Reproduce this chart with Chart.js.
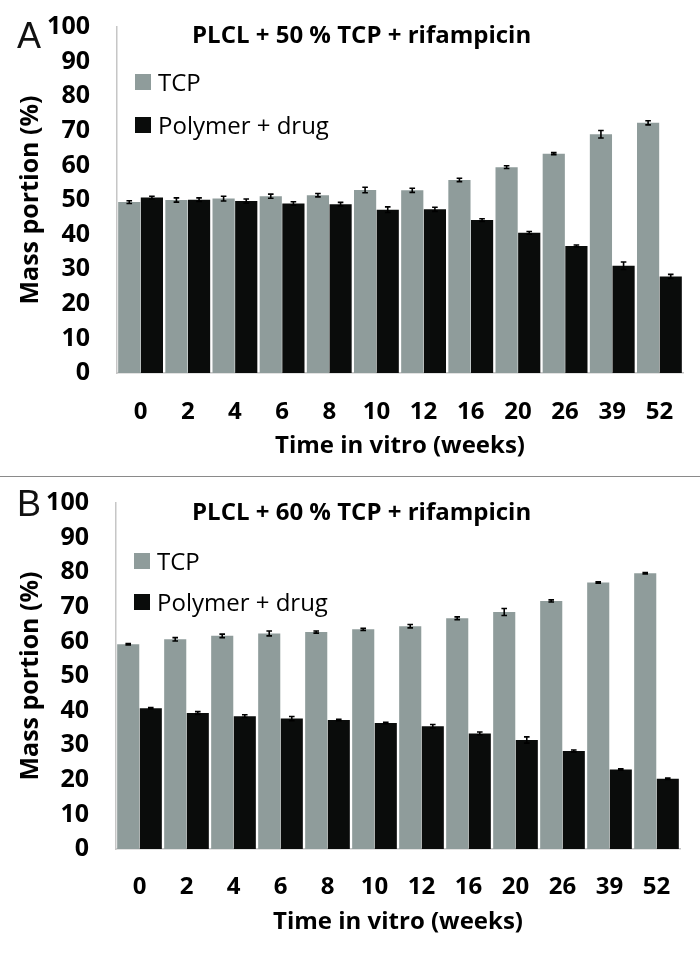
<!DOCTYPE html>
<html><head><meta charset="utf-8">
<script src="https://cdn.jsdelivr.net/npm/chart.js@4"></script>
<style>
html,body{margin:0;padding:0;background:#fff;}
#wrap{width:700px;height:954px;position:relative;overflow:hidden;}
.panel{position:absolute;left:0;width:700px;}
#pa{top:0;height:476px;}
#sep{position:absolute;left:0;top:476px;width:700px;height:1px;background:#8a8a8a;}
#pb{top:477px;height:477px;}
</style></head><body>
<div id="wrap">
<div class="panel" id="pa"><canvas id="ca" width="700" height="476"></canvas></div>
<div id="sep"></div>
<div class="panel" id="pb"><canvas id="cb" width="700" height="477"></canvas></div>
</div>
<script>
// ---- data ----
const weeks = ['0','2','4','6','8','10','12','16','20','26','39','52'];
const yTickValues = [0,10,20,30,40,50,60,70,80,90,100];
const seriesNames = ['TCP','Polymer + drug'];
const titleA = 'PLCL + 50 % TCP + rifampicin';
const titleB = 'PLCL + 60 % TCP + rifampicin';
const xTitle = 'Time in vitro (weeks)';
const yTitle = 'Mass portion (%)';

const tcpA    = [49.4, 50.0, 50.4, 51.1, 51.4, 52.9, 52.8, 55.8, 59.5, 63.4, 69.0, 72.3];
const polyA   = [50.7, 50.1, 49.7, 49.0, 48.8, 47.2, 47.3, 44.2, 40.5, 36.7, 31.0, 27.9];
const tcpErrA  = [0.4, 0.6, 0.7, 0.6, 0.5, 0.8, 0.6, 0.5, 0.4, 0.3, 1.1, 0.6];
const polyErrA = [0.4, 0.5, 0.6, 0.5, 0.5, 0.8, 0.6, 0.4, 0.4, 0.3, 1.1, 0.6];

const tcpB    = [59.2, 60.6, 61.6, 62.3, 62.7, 63.5, 64.4, 66.7, 68.5, 71.7, 77.0, 79.7];
const polyB   = [40.7, 39.3, 38.4, 37.7, 37.3, 36.4, 35.5, 33.4, 31.5, 28.3, 23.0, 20.3];
const tcpErrB  = [0.2, 0.5, 0.5, 0.7, 0.3, 0.3, 0.5, 0.4, 1.0, 0.3, 0.2, 0.2];
const polyErrB = [0.2, 0.4, 0.4, 0.6, 0.2, 0.2, 0.5, 0.4, 0.9, 0.3, 0.2, 0.2];

// ---- styles ----
const GREY = '#8f9c9b';
const BLACK = '#0a0c0b';
const AXIS = '#c6c6c6';
const FONT = '"Open Sans", Lato, sans-serif';

const errorBars = {
  id: 'errorBars',
  afterDatasetsDraw(chart) {
    const ctx = chart.ctx, y = chart.scales.y;
    chart.data.datasets.forEach((ds, di) => {
      const meta = chart.getDatasetMeta(di);
      meta.data.forEach((bar, i) => {
        const v = ds.data[i], e = ds.errors[i];
        const yt = y.getPixelForValue(v + e), yb = y.getPixelForValue(v - e);
        ctx.save();
        ctx.strokeStyle = '#000';
        ctx.lineWidth = 1.6;
        ctx.beginPath();
        ctx.moveTo(bar.x, yt); ctx.lineTo(bar.x, yb);
        ctx.moveTo(bar.x - 2.8, yt); ctx.lineTo(bar.x + 2.8, yt);
        ctx.moveTo(bar.x - 2.8, yb); ctx.lineTo(bar.x + 2.8, yb);
        ctx.stroke();
        ctx.restore();
      });
    });
  }
};

const deco = {
  id: 'deco',
  afterDraw(chart, args, o) {
    const ctx = chart.ctx, ca = chart.chartArea;
    ctx.save();
    // panel letter
    ctx.fillStyle = '#111';
    ctx.font = '36px "Liberation Sans", Arial, sans-serif';
    ctx.textBaseline = 'alphabetic';
    ctx.textAlign = 'left';
    ctx.fillText(o.letter, 17, o.letterY);
    // title
    ctx.font = 'bold 24px ' + FONT;
    ctx.fillStyle = '#000';
    ctx.fillText(o.title, 192, ca.top + o.titleDy);
    // legend
    const lx = ca.left + 18;
    const rows = [o.leg1, o.leg2];
    chart.data.datasets.forEach((ds, i) => {
      const top = ca.top + rows[i];
      ctx.fillStyle = ds.backgroundColor;
      ctx.fillRect(lx, top, 16, 16);
      ctx.fillStyle = '#000';
      ctx.font = '24px ' + FONT;
      ctx.fillText(ds.label, lx + 23, top + 17);
    });
    ctx.restore();
  }
};

function makeChart(id, tcp, poly, tcpErr, polyErr, cfg) {
  return new Chart(document.getElementById(id), {
    type: 'bar',
    data: {
      labels: weeks,
      datasets: [
        { label: seriesNames[0], data: tcp, errors: tcpErr, backgroundColor: GREY,
          categoryPercentage: 0.96, barPercentage: 0.98 },
        { label: seriesNames[1], data: poly, errors: polyErr, backgroundColor: BLACK,
          categoryPercentage: 0.96, barPercentage: 0.98 }
      ]
    },
    options: {
      responsive: false,
      animation: false,
      layout: { padding: { top: cfg.top, left: 0, right: cfg.right, bottom: 0 } },
      plugins: {
        legend: { display: false },
        tooltip: { enabled: false },
        deco: cfg.deco
      },
      scales: {
        x: {
          grid: { display: false, drawTicks: false },
          border: { color: AXIS, width: 1.5 },
          ticks: { color: '#000', padding: cfg.xTickPad, font: { family: FONT, size: 24, weight: 'bold' } },
          title: { display: true, text: xTitle, color: '#000',
                   font: { family: FONT, size: 24, weight: 'bold' }, padding: { top: 0, bottom: cfg.xTitlePad } },
          afterFit(s) { s.height = cfg.xHeight; s.paddingLeft = 0; s.paddingRight = 0; }
        },
        y: {
          min: 0, max: 100,
          afterBuildTicks(s) { s.ticks = yTickValues.map(v => ({ value: v })); },
          grid: { display: false, drawTicks: false },
          border: { color: AXIS, width: 1.5 },
          ticks: { color: '#000', padding: 27, font: { family: FONT, size: 25, weight: 'bold' } },
          title: { display: true, text: yTitle, color: '#000',
                   font: { family: FONT, size: 25, weight: 'bold' }, padding: { top: 16, bottom: 0 } },
          afterFit(s) { s.width = cfg.yWidth; s.paddingTop = 0; s.paddingBottom = 0; }
        }
      }
    },
    plugins: [errorBars, deco]
  });
}

makeChart('ca', tcpA, polyA, tcpErrA, polyErrA, {
  top: 27, right: 17, xHeight: 103, yWidth: 117, xTickPad: 25, xTitlePad: 15,
  deco: { letter: 'A', letterY: 48, title: titleA, titleDy: 16, leg1: 47, leg2: 90 }
});
makeChart('cb', tcpB, polyB, tcpErrB, polyErrB, {
  top: 26, right: 20, xHeight: 105, yWidth: 116, xTickPad: 24, xTitlePad: 17,
  deco: { letter: 'B', letterY: 39, title: titleB, titleDy: 17, leg1: 50, leg2: 91 }
});
</script>
</body></html>
